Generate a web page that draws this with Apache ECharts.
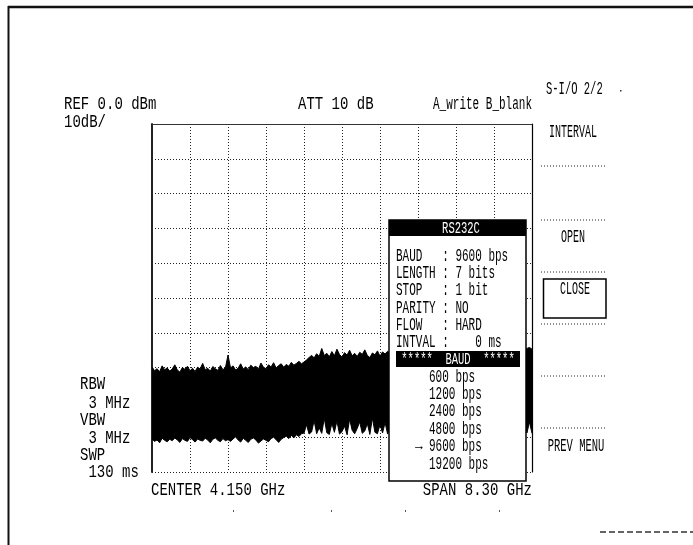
<!DOCTYPE html>
<html><head><meta charset="utf-8">
<script src="https://cdn.jsdelivr.net/npm/echarts@6/dist/echarts.min.js"></script>
<style>html,body{margin:0;padding:0;background:#fff}#c{width:693px;height:545px}</style>
</head><body><div id="c"></div>
<script>
const REF_DBM = 0;          // top of screen
const DB_PER_DIV = 10;
const DIVISIONS = 10;
const SPAN_GHZ = 8.3;

// upper envelope of the noise trace (dBm), 151 sweep points
const traceUpper = [
  -69.8,-70.9,-70.3,-71.2,-69.5,-70.6,-70.1,-71.0,-70.4,-69.2,
  -70.7,-71.3,-70.0,-70.5,-69.6,-70.9,-70.2,-71.1,-69.9,-70.4,
  -68.8,-70.6,-70.2,-71.0,-69.7,-70.3,-70.8,-69.4,-70.6,-70.0,
  -66.4,-70.1,-69.5,-70.7,-70.2,-68.9,-70.4,-69.8,-70.6,-69.3,
  -70.0,-69.6,-70.5,-68.7,-69.9,-70.3,-69.2,-69.8,-68.6,-70.1,
  -69.4,-68.9,-69.9,-69.1,-69.6,-68.5,-69.3,-68.8,-68.2,-68.9,
  -68.4,-67.8,-67.1,-66.5,-67.2,-66.0,-66.8,-64.5,-66.5,-65.9,
  -66.9,-65.4,-66.6,-64.7,-66.2,-67.0,-65.7,-66.4,-65.0,-66.6,
  -65.9,-66.8,-65.6,-66.2,-64.9,-66.5,-67.1,-65.8,-66.3,-65.2,
  -66.7,-65.5,-66.1,-65.3,-66.0,-65.6,-65.1,-65.8,-65.4,-64.9,
  -65.6,-65.2,-64.8,-65.5,-65.0,-65.4,-64.7,-65.3,-64.9,-65.5,
  -65.1,-64.6,-65.3,-64.9,-65.2,-64.8,-65.4,-64.5,-65.0,-64.7,
  -65.2,-64.6,-65.0,-64.4,-64.9,-65.1,-64.6,-64.8,-64.3,-64.9,
  -64.5,-65.0,-64.7,-64.3,-64.9,-64.6,-64.2,-64.8,-64.4,-64.9,
  -64.6,-64.3,-64.8,-64.5,-64.1,-64.7,-64.4,-64.9,-64.5,-64.2,
  -64.7
];
// lower envelope of the noise trace (dBm)
const traceLower = [
  -90.5,-91.2,-90.8,-91.6,-90.3,-90.9,-91.3,-90.6,-91.0,-90.2,
  -90.8,-91.5,-90.4,-90.9,-91.2,-90.1,-90.7,-91.4,-90.5,-90.9,
  -91.1,-90.3,-90.8,-91.6,-90.6,-90.2,-90.9,-91.3,-90.4,-91.0,
  -90.7,-91.2,-90.5,-89.9,-90.8,-91.4,-90.3,-90.9,-91.5,-90.6,
  -90.2,-90.8,-91.7,-91.1,-90.5,-90.9,-91.3,-90.4,-90.0,-90.7,
  -91.5,-90.6,-90.1,-89.7,-90.4,-89.5,-90.2,-89.3,-89.8,-89.0,
  -88.8,-86.4,-89.1,-88.5,-85.2,-89.0,-87.3,-88.9,-84.6,-88.7,
  -89.2,-86.0,-88.6,-85.3,-89.1,-88.4,-86.8,-89.3,-84.8,-88.0,
  -89.0,-87.5,-85.6,-88.9,-88.2,-86.1,-89.2,-84.5,-88.6,-89.0,
  -86.4,-88.8,-85.8,-89.1,-87.0,-88.5,-85.1,-89.0,-88.3,-86.6,
  -89.2,-85.4,-88.7,-87.9,-86.2,-89.1,-84.9,-88.4,-89.0,-86.7,
  -88.6,-85.6,-89.2,-87.4,-88.9,-85.0,-88.5,-89.1,-86.3,-88.8,
  -85.7,-89.0,-87.1,-88.6,-84.8,-89.2,-88.0,-86.5,-88.9,-85.3,
  -89.1,-87.6,-88.4,-85.9,-89.0,-86.8,-88.7,-85.2,-89.2,-87.3,
  -88.5,-85.8,-89.1,-87.0,-88.6,-84.9,-89.0,-86.4,-88.8,-85.6,
  -88.9
];

const headerLabels = ['REF 0.0 dBm', '10dB/', 'ATT 10 dB', 'A_write B_blank'];
const sideLabels = ['RBW', ' 3 MHz', 'VBW', ' 3 MHz', 'SWP', ' 130 ms'];
const footerLabels = ['CENTER 4.150 GHz', 'SPAN 8.30 GHz'];
const menuTitle = 'S-I/O 2/2';
const menuItems = ['INTERVAL', 'OPEN', 'CLOSE', 'PREV MENU'];
const popupTitle = 'RS232C';
const popupFields = [['BAUD', '9600 bps'], ['LENGTH', '7 bits'], ['STOP', '1 bit'],
                     ['PARITY', 'NO'], ['FLOW', 'HARD'], ['INTVAL', '   0 ms']];
const listTitle = '*****  BAUD  *****';
const baudOptions = ['600 bps', '1200 bps', '2400 bps', '4800 bps', '9600 bps', '19200 bps'];
const selectedBaud = '9600 bps';

// ---- rendering ----
const FONT = '"Liberation Mono", "DejaVu Sans Mono", monospace';
function txt(s, x, y, size, sy, align, color, z, weight) {
  return { type: 'text', x: x, y: y, scaleY: sy, z: z || 100, silent: true,
    style: { text: s, x: 0, y: 0, font: (weight || 'normal') + ' ' + size + 'px ' + FONT, fill: color || '#000',
      textAlign: align || 'left', textVerticalAlign: 'middle', align: align || 'left', verticalAlign: 'middle' } };
}
function line(x1, y1, x2, y2, w, dash, color, z) {
  return { type: 'line', z: z || 100, silent: true, shape: { x1, y1, x2, y2 },
    style: { stroke: color || '#000', lineWidth: w, lineDash: dash || null } };
}
function rect(x, y, w, h, fill, stroke, lw, z) {
  return { type: 'rect', z: z || 100, silent: true, shape: { x, y, width: w, height: h },
    style: { fill: fill, stroke: stroke || null, lineWidth: lw || 0 } };
}

const g = [];
// outer frame
g.push(line(8, 7, 693, 7, 2.5, null, '#111'));
g.push(line(8.5, 6, 8.5, 545, 2, null, '#111'));
g.push(line(600, 532, 693, 532, 1.5, [6, 3], '#333'));
[233, 331, 405, 499].forEach(x => g.push(rect(x, 510, 1, 2, '#555')));

// header
g.push(txt(headerLabels[0], 64, 104, 14, 1.3));
g.push(txt(headerLabels[1], 64, 122, 14, 1.3));
g.push(txt(headerLabels[2], 298, 104, 14, 1.3));
g.push(txt(headerLabels[3], 532, 104, 11, 1.6, 'right'));

// side settings
const sideY = [384, 403, 420, 438, 455, 472];
sideLabels.forEach((s, i) => g.push(txt(s, 80, sideY[i], 14, 1.3)));

// footer
g.push(txt(footerLabels[0], 151, 490, 14, 1.3));
g.push(txt(footerLabels[1], 532, 490, 14, 1.3, 'right'));

// soft-key menu
g.push(txt(menuTitle, 546, 89, 10.5, 1.7));
g.push(rect(620, 90, 1.5, 1.5, '#333'));
[166, 220, 272, 324, 376, 428].forEach(y => g.push(line(541, y, 607, y, 1, [1, 2], '#222')));
g.push(txt(menuItems[0], 573, 132, 10, 1.9, 'center'));
g.push(txt(menuItems[1], 573, 237, 10, 1.9, 'center'));
g.push(rect(543.5, 279, 62.5, 39, null, '#000', 1.5));
g.push(txt(menuItems[2], 575, 289, 10, 1.9, 'center'));
g.push(txt(menuItems[3], 576, 446, 10.5, 1.8, 'center'));

// RS232C popup
g.push(rect(389, 220, 137, 261, '#fff', '#000', 1.5, 100));
g.push(rect(389, 220, 137, 16, '#000', null, 0, 101));
g.push(txt(popupTitle, 461, 228.5, 10.5, 1.5, 'center', '#fff', 102));
popupFields.forEach((f, i) => {
  g.push(txt(f[0].padEnd(7, ' ') + ': ' + f[1], 396, 256 + 17.3 * i, 11, 1.6, 'left', '#000', 102));
});
g.push(rect(396, 351, 124, 16, '#000', null, 0, 101));
g.push(txt(listTitle, 458, 359.5, 10.5, 1.5, 'center', '#fff', 102));
baudOptions.forEach((b, i) => {
  const y = 377 + 17.4 * i;
  g.push(txt(b, 429, y, 11, 1.6, 'left', '#000', 102));
  if (b === selectedBaud) g.push(txt('\u2192', 419, y, 13, 1.1, 'center', '#000', 102, 'bold'));
});

const sweepIdx = traceUpper.map((_, i) => i);
const bandHeight = traceUpper.map((v, i) => +(v - traceLower[i]).toFixed(2));
const bottomDbm = REF_DBM - DB_PER_DIV * DIVISIONS;

const chart = echarts.init(document.getElementById('c'), null, { renderer: 'canvas' });
chart.setOption({
  animation: false,
  backgroundColor: '#fff',
  grid: { left: 152, top: 124, width: 380, height: 348 },
  xAxis: [
    { type: 'value', min: 0, max: SPAN_GHZ, interval: SPAN_GHZ / DIVISIONS, position: 'bottom',
      axisLine: { show: true, lineStyle: { color: '#000', width: 1.2 } },
      axisTick: { show: false }, axisLabel: { show: false },
      splitLine: { show: true, lineStyle: { color: '#222', width: 1, type: [1, 2] } } },
    { type: 'category', data: sweepIdx, boundaryGap: false, position: 'top',
      axisLine: { show: true, lineStyle: { color: '#333', width: 1 } },
      axisTick: { show: false }, axisLabel: { show: false }, splitLine: { show: false } }
  ],
  yAxis: [
    { type: 'value', min: bottomDbm, max: REF_DBM, interval: DB_PER_DIV, position: 'left',
      axisLine: { show: true, lineStyle: { color: '#222', width: 2 } },
      axisTick: { show: false }, axisLabel: { show: false },
      splitLine: { show: true, lineStyle: { color: '#222', width: 1, type: [1, 2] } } },
    { type: 'value', min: bottomDbm, max: REF_DBM, interval: DB_PER_DIV, position: 'right',
      axisLine: { show: true, lineStyle: { color: '#000', width: 1.2 } },
      axisTick: { show: false }, axisLabel: { show: false }, splitLine: { show: false } }
  ],
  series: [
    { type: 'line', xAxisIndex: 1, yAxisIndex: 0, data: traceLower, stack: 'trace', stackStrategy: 'all',
      symbol: 'none', silent: true, lineStyle: { color: '#000', width: 1 } },
    { type: 'line', xAxisIndex: 1, yAxisIndex: 0, data: bandHeight, stack: 'trace', stackStrategy: 'all',
      symbol: 'none', silent: true, lineStyle: { color: '#000', width: 1 },
      areaStyle: { color: '#000', opacity: 1 } }
  ],
  graphic: { elements: g }
});
</script>
</body></html>
